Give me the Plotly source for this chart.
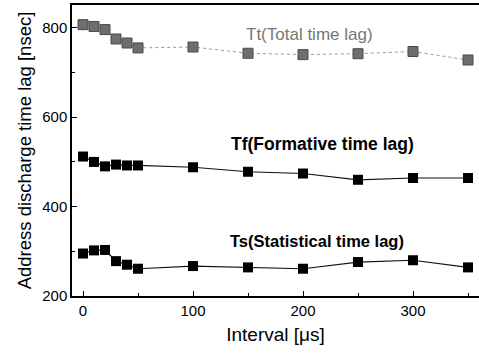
import plotly.graph_objects as go

interval = [0, 10, 20, 30, 40, 50, 100, 150, 200, 250, 300, 350]
tt_total = [807, 803, 796, 775, 766, 755, 757, 743, 740, 742, 747, 728]
tf_formative = [512, 500, 490, 494, 492, 492, 488, 478, 474, 460, 464, 464]
ts_statistical = [295, 302, 303, 278, 270, 261, 267, 264, 261, 276, 280, 264]

fig = go.Figure()
fig.add_trace(go.Scatter(
    x=interval, y=tt_total, mode="lines+markers",
    line=dict(color="#999999", width=1, dash="dot"),
    marker=dict(symbol="square", size=10, color="#6e6e6e",
                line=dict(color="#4a4a4a", width=1)),
    showlegend=False))
fig.add_trace(go.Scatter(
    x=interval, y=tf_formative, mode="lines+markers",
    line=dict(color="#111111", width=1.2),
    marker=dict(symbol="square", size=10, color="#000000"),
    showlegend=False))
fig.add_trace(go.Scatter(
    x=interval, y=ts_statistical, mode="lines+markers",
    line=dict(color="#111111", width=1.2),
    marker=dict(symbol="square", size=10, color="#000000"),
    showlegend=False))

fig.add_annotation(x=206, y=784, text="Tt(Total time lag)", showarrow=False,
                   font=dict(family="Liberation Sans, Arial", size=17, color="#777777"))
fig.add_annotation(x=218, y=539, text="<b>Tf(Formative time lag)</b>", showarrow=False,
                   font=dict(family="Liberation Sans, Arial", size=17.5, color="#000000"))
fig.add_annotation(x=213, y=324, text="<b>Ts(Statistical time lag)</b>", showarrow=False,
                   font=dict(family="Liberation Sans, Arial", size=16.5, color="#000000"))

fig.update_layout(
    width=479, height=353,
    margin=dict(l=72, r=0, t=5, b=57),
    paper_bgcolor="white", plot_bgcolor="white",
    font=dict(family="Liberation Sans, Arial", color="#000000"),
    xaxis=dict(range=[-10, 360], tickvals=[0, 100, 200, 300],
               ticks="inside", ticklen=5, tickwidth=1, tickcolor="black",
               minor=dict(ticks="inside", ticklen=3, tickcolor="black", dtick=50, tick0=0),
               showline=True, linecolor="black", linewidth=1.5, mirror=True,
               showgrid=False, zeroline=False,
               tickfont=dict(size=15),
               title=dict(text="Interval [μs]", font=dict(size=19), standoff=10)),
    yaxis=dict(range=[200, 851], tickvals=[200, 400, 600, 800],
               ticks="inside", ticklen=5, tickwidth=1, tickcolor="black",
               minor=dict(ticks="inside", ticklen=3, tickcolor="black", dtick=100, tick0=0),
               showline=True, linecolor="black", linewidth=1.5,
               showgrid=False, zeroline=False,
               tickfont=dict(size=15),
               title=dict(text="Address discharge time lag [nsec]", font=dict(size=18.5), standoff=6)),
)

fig.write_html("out.html")
